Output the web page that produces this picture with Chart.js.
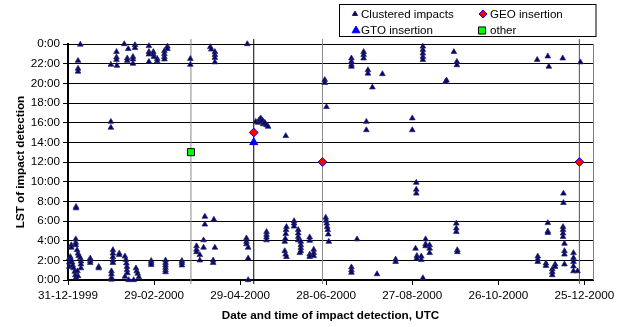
<!DOCTYPE html>
<html lang="en">
<head>
<meta charset="UTF-8">
<title>LST of impact detection</title>
<script src="https://cdn.jsdelivr.net/npm/chart.js@4.4.0/dist/chart.umd.min.js"></script>
<style>
  body { margin: 0; background: #fff; }
  .chart-box { position: relative; width: 629px; height: 327px; }
</style>
</head>
<body>
<div class="chart-box"><canvas id="impactChart"></canvas></div>
<script>
// x values are days after 31-12-1999, y values are local solar time in hours
const xTickDays = [0, 60, 120, 180, 240, 300, 360];
const xTickLabels = ['31-12-1999', '29-02-2000', '29-04-2000', '28-06-2000', '27-08-2000', '26-10-2000', '25-12-2000'];
const yTickHours = [0, 2, 4, 6, 8, 10, 12, 14, 16, 18, 20, 22, 24];
const yTickLabels = ['0:00', '2:00', '4:00', '6:00', '8:00', '10:00', '12:00', '14:00', '16:00', '18:00', '20:00', '22:00', '0:00'];

// clustered impacts, one column of hours per detection day
const impactDays = [
  0.9, 1.6, 2.3, 2.8, 3.3, 3.9, 4.7, 5.1, 5.4, 5.6, 6.3, 6.6, 7.0, 7.4, 8.6, 9.0,
  15.5, 21.4, 29.9, 30.3, 31.3, 33.8, 34.1, 35.7, 39.2, 39.7, 40.4, 40.7, 41.1, 41.3, 41.4,
  42.0, 42.3, 45.3, 45.8, 46.7, 47.4, 47.9, 48.6, 49.4, 56.4, 58.0, 59.5, 59.9, 62.2,
  67.2, 68.0, 69.3, 79.4, 85.3, 89.6, 91.9, 94.5, 95.4, 99.2, 99.9, 101.2, 101.7, 102.4,
  124.4, 125.0, 125.6, 130.9, 132.5, 133.0, 133.7, 134.4, 134.9, 135.5, 136.0, 136.5,
  137.2, 138.4, 139.5, 151.1, 151.5, 151.7, 151.8, 152.0, 152.3, 157.6, 160.5, 161.6,
  162.3, 168.5, 171.3, 179.0, 179.7, 180.0, 180.2, 180.4, 180.7, 181.1, 181.4, 181.8,
  197.6, 201.5, 206.1, 208.0, 209.1, 212.2, 215.4, 219.2, 228.4, 240.0, 242.3, 242.8,
  243.2, 246.3, 247.4, 249.3, 252.1, 263.2, 263.9, 269.0, 270.7, 271.1, 271.4,
  327.1, 327.5, 333.2, 334.5, 335.2, 337.6, 339.6, 344.9, 345.1, 345.4, 346.1,
  352.4, 355.2, 357.2
];
const impactHours = [
  [2.2, 1.8, 1.35], [2.35], [3.55, 3.3, 2.05], [1.8], [1.5], [1.2], [0.85], [0.5],
  [4.15, 3.8, 3.55], [7.45, 7.3, 0.25], [3.05], [0.9], [22.3, 21.5, 21.2, 2.7, 0.4], [2.45],
  [23.95, 2.25], [1.9, 1.6, 1.2],
  [2.2, 1.95, 1.75], [1.35, 1.2], [21.9, 16.1, 15.5], [0.9, 0.6, 0.25, 0.05],
  [3.05, 2.7, 2.35, 2.0, 1.75], [23.2, 22.65, 22.4], [21.8], [2.7, 2.55], [24.0],
  [2.4, 0.35], [2.05], [1.7], [1.35, 1.0], [22.55, 22.3], [0.7],
  [23.5], [0.0], [22.7, 22.45, 22.0], [0.0], [23.9, 23.6], [1.2], [0.9], [0.65], [0.3],
  [23.8, 23.2, 22.95, 22.2], [1.95, 1.75, 1.55], [23.2, 22.95], [22.7], [22.5, 22.25],
  [23.3, 23.0, 22.7, 22.45], [2.0, 1.75, 1.5, 1.25, 1.0, 0.8], [23.75, 23.5], [1.95, 1.75, 1.5],
  [22.5, 21.9], [3.45, 3.1, 2.85], [2.55, 2.0], [4.05, 3.3], [6.45, 5.65], [23.7], [23.45],
  [2.0, 1.75], [6.15], [23.2, 22.9, 22.6, 22.15, 3.3],
  [4.25, 3.9, 3.65], [24.0], [3.3, 2.2, 0.0], [16.1], [16.0], [16.2], [16.3], [16.45],
  [16.1], [16.25], [15.85], [15.95],
  [16.0], [15.75, 4.9, 4.6, 4.35, 4.05], [15.6], [3.9, 2.95], [4.2], [2.6], [14.65, 4.7],
  [5.1], [5.4, 2.35], [6.0, 5.75, 5.45], [5.1, 4.75, 4.4, 4.05], [2.75],
  [3.9, 3.55, 3.25, 2.95], [4.35, 4.0, 2.6, 2.35], [3.1, 2.75, 2.45], [20.35, 20.05],
  [6.35], [6.05], [17.6], [5.75], [5.4], [5.1], [4.65], [3.9],
  [22.55, 22.2, 21.9, 21.7, 1.3, 1.0, 0.75], [4.15], [23.2, 22.9, 22.55], [16.1, 15.25],
  [21.35, 21.0], [19.6], [0.6], [20.95], [2.1, 1.85], [16.45, 15.25], [3.2], [9.9, 9.2, 8.8],
  [2.45, 2.2], [2.4, 2.05], [23.75, 23.4, 23.05, 22.7, 22.4, 0.2], [4.15, 3.65, 3.45],
  [3.55, 3.2, 2.75], [20.15], [20.3], [23.2], [5.75, 5.25, 4.9], [22.2, 21.85], [3.05, 2.85],
  [22.4], [2.4, 2.1, 1.85], [1.7, 1.45], [22.75, 5.8, 4.95, 4.8], [21.7], [1.1, 0.8, 0.5],
  [1.6, 1.35], [22.55], [5.4, 5.1, 4.75, 4.4], [8.8, 7.85], [3.7, 2.95, 2.6, 1.6],
  [2.75, 2.25, 1.85, 1.4, 0.9], [0.9], [22.15]
];

const gtoDays = [129.5];
const gtoHours = [14];
const geoDays = [129.5, 177.4, 356.5];
const geoHours = [15, 12, 12];
const otherDays = [85.7];
const otherHours = [13];

// vertical marker lines through the insertion events
const eventLineDays = [85.7, 129.5, 177.4, 356.5];
const eventLineSpan = [-0.4, 24.5];

const eventLineColors = ['#8a8a8a', '#000000', '#8a8a8a', '#505050'];
const FONT = '"Liberation Sans", Arial, sans-serif';

function pairUp(days, hours) {
  return days.map((d, i) => ({ x: d, y: hours[i] }));
}

const impactPoints = [];
impactDays.forEach((d, i) => {
  impactHours[i].forEach(h => impactPoints.push({ x: d, y: h }));
});

const lineSets = eventLineDays.map((d, i) => ({
  label: 'event ' + i,
  data: eventLineSpan.map(h => ({ x: d, y: h })),
  showLine: true,
  borderColor: eventLineColors[i],
  borderWidth: 1,
  pointRadius: 0,
  clip: false,
  order: 10
}));

const legendItems = [
  { text: 'Clustered impacts', style: 'triangle', radius: 3, fill: '#000080', stroke: '#202050', x: 355, y: 14, tx: 361 },
  { text: 'GEO insertion', style: 'rectRot', radius: 4, fill: '#ff0000', stroke: '#0000ff', x: 483, y: 14, tx: 490 },
  { text: 'GTO insertion', style: 'triangle', radius: 4.5, fill: '#0000ff', stroke: '#0000ff', x: 356, y: 30.5, tx: 361 },
  { text: 'other', style: 'rect', radius: 5, fill: '#00ff00', stroke: '#000000', x: 482, y: 30.5, tx: 490 }
];

// right frame edge and the boxed two column key
const frameAndKey = {
  id: 'frameAndKey',
  afterDraw(chart) {
    const { ctx, chartArea: a } = chart;
    ctx.save();
    ctx.strokeStyle = '#808080';
    ctx.lineWidth = 1;
    ctx.beginPath();
    ctx.moveTo(Math.round(a.right) + 0.5, a.top);
    ctx.lineTo(Math.round(a.right) + 0.5, a.bottom);
    ctx.stroke();

    ctx.fillStyle = '#fff';
    ctx.fillRect(339.5, 4.5, 256.5, 32);
    ctx.strokeStyle = '#000';
    ctx.strokeRect(339.5, 4.5, 256.5, 32);

    ctx.font = '11.6px ' + FONT;
    ctx.textBaseline = 'middle';
    legendItems.forEach(it => {
      ctx.fillStyle = it.fill;
      ctx.strokeStyle = it.stroke;
      ctx.lineWidth = 1;
      Chart.helpers.drawPoint(ctx, { pointStyle: it.style, radius: it.radius, borderWidth: 1, rotation: 0 }, it.x, it.y);
      ctx.fillStyle = '#000';
      ctx.fillText(it.text, it.tx, it.y + 0.5);
    });
    ctx.restore();
  }
};

new Chart(document.getElementById('impactChart'), {
  type: 'scatter',
  data: {
    datasets: [
      {
        label: 'Clustered impacts',
        data: impactPoints,
        pointStyle: 'triangle',
        pointRadius: 3.3,
        backgroundColor: '#000080',
        borderColor: '#2a2a50',
        borderWidth: 0.7,
        clip: false,
        order: 2
      },
      {
        label: 'GTO insertion',
        data: pairUp(gtoDays, gtoHours),
        pointStyle: 'triangle',
        pointRadius: 4.6,
        backgroundColor: '#0000ff',
        borderColor: '#0000ff',
        borderWidth: 1,
        clip: false,
        order: 1
      },
      {
        label: 'GEO insertion',
        data: pairUp(geoDays, geoHours),
        pointStyle: 'rectRot',
        pointRadius: 4.4,
        backgroundColor: '#ff0000',
        borderColor: '#0000ff',
        borderWidth: 1,
        clip: false,
        order: 0
      },
      {
        label: 'other',
        data: pairUp(otherDays, otherHours),
        pointStyle: 'rect',
        pointRadius: 5,
        backgroundColor: '#00ff00',
        borderColor: '#000000',
        borderWidth: 1,
        clip: false,
        order: 0
      },
      ...lineSets
    ]
  },
  options: {
    responsive: true,
    maintainAspectRatio: false,
    animation: false,
    layout: { padding: { top: 44, right: 36, bottom: 4, left: 0 } },
    plugins: {
      legend: { display: false },
      tooltip: { enabled: false }
    },
    scales: {
      x: {
        type: 'linear',
        min: 0,
        max: 366,
        afterBuildTicks: s => { s.ticks = xTickDays.map(v => ({ value: v })); },
        afterFit: s => { s.height = 43; },
        ticks: {
          autoSkip: false,
          maxRotation: 0,
          padding: 4,
          color: '#000',
          font: { family: FONT, size: 11.7 },
          callback: (v, i) => xTickLabels[i]
        },
        grid: { drawOnChartArea: false, drawTicks: true, tickLength: 5, tickColor: '#000' },
        border: { color: '#000', width: 2 },
        title: {
          display: true,
          text: 'Date and time of impact detection, UTC',
          color: '#000',
          font: { family: FONT, size: 11.7, weight: 'bold' },
          padding: { top: 0, bottom: 0 }
        }
      },
      y: {
        min: 0,
        max: 24,
        afterBuildTicks: s => { s.ticks = yTickHours.map(v => ({ value: v })); },
        afterFit: s => { s.width = 68; },
        ticks: {
          padding: 3,
          color: '#000',
          font: { family: FONT, size: 11.7 },
          callback: (v, i) => yTickLabels[i]
        },
        grid: { color: '#000', lineWidth: 1, tickLength: 5, tickColor: '#000' },
        border: { color: '#000', width: 2 },
        title: {
          display: true,
          text: 'LST of impact detection',
          color: '#000',
          font: { family: FONT, size: 11.7, weight: 'bold' },
          padding: { top: 14, bottom: 0 }
        }
      }
    }
  },
  plugins: [frameAndKey]
});
</script>
</body>
</html>
